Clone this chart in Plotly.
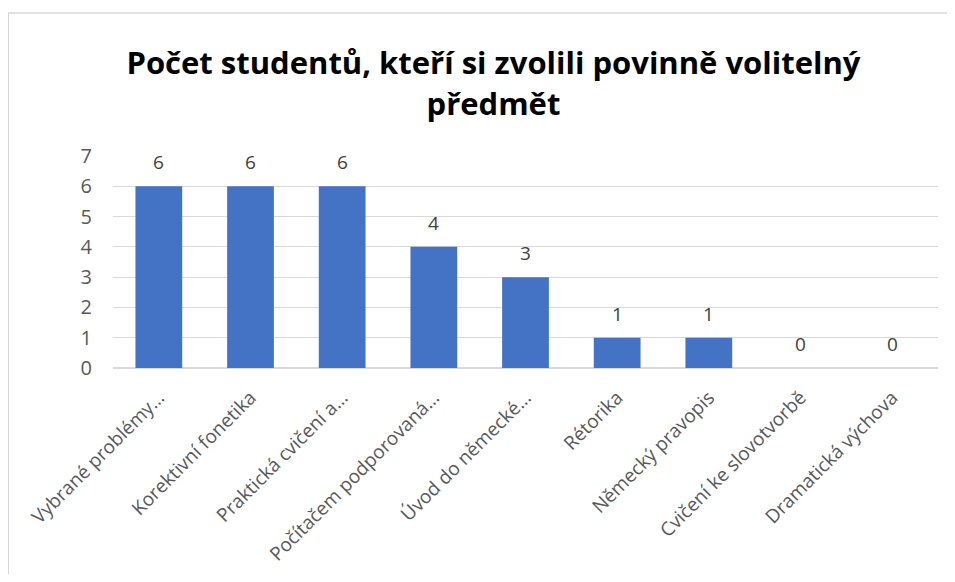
import plotly.graph_objects as go

# data
SUBJECTS = ['Vybrané problémy…', 'Korektivní fonetika', 'Praktická cvičení a…',
            'Počítačem podporovaná…', 'Úvod do německé…', 'Rétorika',
            'Německý pravopis', 'Cvičení ke slovotvorbě', 'Dramatická výchova']
STUDENTS = [6, 6, 6, 4, 3, 1, 1, 0, 0]
Y_TICKS = [0, 1, 2, 3, 4, 5, 6, 7]

TITLE = 'Počet studentů, kteří si zvolili povinně volitelný<br>předmět'
GREY = '#595959'
GRID = '#D9D9D9'

fig = go.Figure(go.Bar(
    x=SUBJECTS,
    y=STUDENTS,
    cliponaxis=False,
    marker=dict(color='#4472C4', line=dict(width=0)),
))

# value labels above the bars
for name, val in zip(SUBJECTS, STUDENTS):
    fig.add_annotation(x=name, y=val, text=str(val), showarrow=False,
                       yanchor='bottom', yshift=9,
                       font=dict(size=19, color='#404040'))

# page body has an 8px margin all round, so keep the figure inside the window
fig.update_layout(
    width=939, height=566,
    margin=dict(l=105, r=9, t=148, b=206, autoexpand=False),
    paper_bgcolor='white', plot_bgcolor='white',
    font=dict(family='Open Sans', color=GREY),
    bargap=0.49,
    showlegend=False,
    title=dict(text=TITLE, x=0.517, xanchor='center', yref='container',
               y=0.883, yanchor='middle',
               font=dict(family='Open Sans', size=31, color='black', weight='bold')),
)

fig.update_xaxes(tickangle=-45, tickfont=dict(size=19, color=GREY),
                 showline=True, linecolor=GRID, ticks='', ticklabelstandoff=10,
                 automargin=False)
fig.update_yaxes(range=[0, 7], tickvals=Y_TICKS, tickfont=dict(size=20, color=GREY),
                 gridcolor=GRID, zeroline=True, zerolinecolor=GRID, ticks='',
                 ticklabelstandoff=20, automargin=False)

# chart border: only the left and top edges fall inside the window
fig.add_shape(type='path', xref='paper', yref='paper',
              path='M -0.127,-1.5 L -0.127,1.675 L 1.2,1.675',
              line=dict(color=GRID, width=1.5), layer='below')

fig.write_html('out.html')
